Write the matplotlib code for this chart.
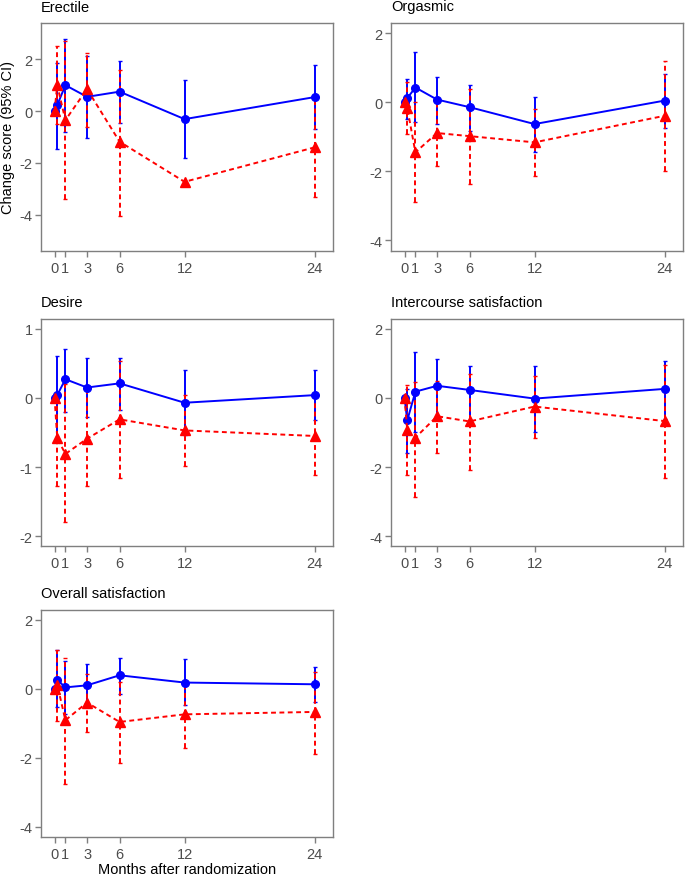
import numpy as np
import matplotlib
matplotlib.use("Agg")
import matplotlib.pyplot as plt

plt.rcParams['font.family'] = ['Liberation Sans', 'DejaVu Sans']

# months after randomization (0.25 = 1 week)
months = [0, 0.25, 1, 3, 6, 12, 24]
tick_months = [0, 1, 3, 6, 12, 24]

titles = ["Erectile", "Orgasmic", "Desire", "Intercourse satisfaction", "Overall satisfaction"]

# blue group: estimate, lower, upper
blue_est = [
    [0, 0.23, 1.00, 0.55, 0.75, -0.31, 0.54],
    [0, 0.12, 0.43, 0.08, -0.14, -0.63, 0.05],
    [0, 0.04, 0.27, 0.15, 0.21, -0.07, 0.04],
    [0, -0.65, 0.18, 0.35, 0.23, -0.02, 0.26],
    [0, 0.26, 0.04, 0.10, 0.39, 0.18, 0.13],
]
blue_lo = [
    [np.nan, -1.47, -0.82, -1.05, -0.46, -1.81, -0.70],
    [np.nan, -0.48, -0.58, -0.63, -0.82, -1.45, -0.75],
    [np.nan, -0.57, -0.20, -0.28, -0.17, -0.54, -0.32],
    [np.nan, -1.59, -0.99, -0.51, -0.65, -0.99, -0.60],
    [np.nan, -0.53, -0.72, -0.53, -0.14, -0.48, -0.39],
]
blue_hi = [
    [np.nan, 1.84, 2.80, 2.14, 1.94, 1.20, 1.78],
    [np.nan, 0.68, 1.45, 0.74, 0.50, 0.16, 0.82],
    [np.nan, 0.61, 0.71, 0.57, 0.58, 0.41, 0.41],
    [np.nan, 0.26, 1.32, 1.13, 0.93, 0.93, 1.08],
    [np.nan, 1.11, 0.79, 0.72, 0.90, 0.87, 0.63],
]

# red group: estimate, lower, upper
red_est = [
    [0, 1.00, -0.35, 0.85, -1.18, -2.73, -1.40],
    [0, -0.16, -1.45, -0.89, -0.98, -1.16, -0.39],
    [0, -0.58, -0.81, -0.59, -0.31, -0.47, -0.55],
    [0, -0.94, -1.15, -0.53, -0.68, -0.25, -0.67],
    [0, 0.12, -0.91, -0.40, -0.96, -0.74, -0.67],
]
red_lo = [
    [np.nan, -0.50, -3.40, -0.60, -4.04, np.nan, -3.30],
    [np.nan, -0.92, -2.90, -1.85, -2.36, -2.15, -1.98],
    [np.nan, -1.27, -1.80, -1.27, -1.16, -0.98, -1.11],
    [np.nan, -2.24, -2.87, -1.59, -2.07, -1.15, -2.32],
    [np.nan, -0.92, -2.75, -1.25, -2.14, -1.71, -1.88],
]
red_hi = [
    [np.nan, 2.52, 2.70, 2.26, 1.58, np.nan, 0.60],
    [np.nan, 0.58, 0.00, 0.10, 0.39, -0.19, 1.20],
    [np.nan, 0.02, 0.20, 0.13, 0.54, 0.04, 0.02],
    [np.nan, 0.36, 0.47, 0.50, 0.69, 0.63, 0.95],
    [np.nan, 1.13, 0.90, 0.43, 0.19, 0.10, 0.50],
]

ylims = [(-5.4, 3.4), (-4.31, 2.3), (-2.14, 1.14), (-4.28, 2.28), (-4.29, 2.28)]
yticks = [[-4, -2, 0, 2], [-4, -2, 0, 2], [-2, -1, 0, 1], [-4, -2, 0, 2], [-4, -2, 0, 2]]

# axes boxes in pixels: left, top, right, bottom
W, H = 685, 878
boxes = [(41, 24, 333, 252), (391, 24, 683, 252),
         (41, 320, 333, 547), (391, 320, 683, 547),
         (41, 611, 333, 838)]

fig = plt.figure(figsize=(W / 100, H / 100), dpi=100)

spine_col = '#7f7f7f'
tick_col = '#4d4d4d'
fs = 10.5


def draw_group(ax, est, lo, hi, color, ls, marker, ms):
    x = np.array(months)
    est = np.array(est)
    lo = np.array(lo)
    hi = np.array(hi)
    err = np.vstack([est - lo, hi - est])
    ok = ~np.isnan(err[0])
    eb = ax.errorbar(x[ok], est[ok], yerr=err[:, ok], fmt='none', ecolor=color,
                     elinewidth=1.4, capsize=1.2, capthick=1.0, zorder=2)
    eb[2][0].set_linestyle(ls)
    ax.plot(x, est, color=color, ls=ls, lw=1.4, marker=marker, ms=ms,
            mfc=color, mec=color, zorder=3)


for i, t in enumerate(titles):
    l, tp, r, b = boxes[i]
    ax = fig.add_axes([l / W, 1 - b / H, (r - l) / W, (b - tp) / H])
    draw_group(ax, blue_est[i], blue_lo[i], blue_hi[i], 'blue', '-', 'o', 5.5)
    draw_group(ax, red_est[i], red_lo[i], red_hi[i], 'red', (0, (2.5, 1.8)), '^', 6.5)

    ax.set_xlim(-1.25, 25.7)
    ax.set_ylim(*ylims[i])
    ax.set_xticks(tick_months)
    ax.set_yticks(yticks[i])
    ax.set_yticklabels([str(v) for v in yticks[i]])
    for s in ax.spines.values():
        s.set_color(spine_col)
        s.set_linewidth(1.0)
    ax.tick_params(axis='both', colors=spine_col, labelcolor=tick_col,
                   labelsize=fs, length=4, width=1.0)
    ax.tick_params(axis='x', pad=3)
    ax.tick_params(axis='y', pad=2)
    ax.set_title(t, loc='left', fontsize=fs, color='black', pad=9)

    if i == 0:
        ax.set_ylabel("Change score (95% CI)", fontsize=fs, labelpad=3)
    if i == 4:
        ax.set_xlabel("Months after randomization", fontsize=fs, labelpad=1)

fig.savefig("out.png", dpi=100)
